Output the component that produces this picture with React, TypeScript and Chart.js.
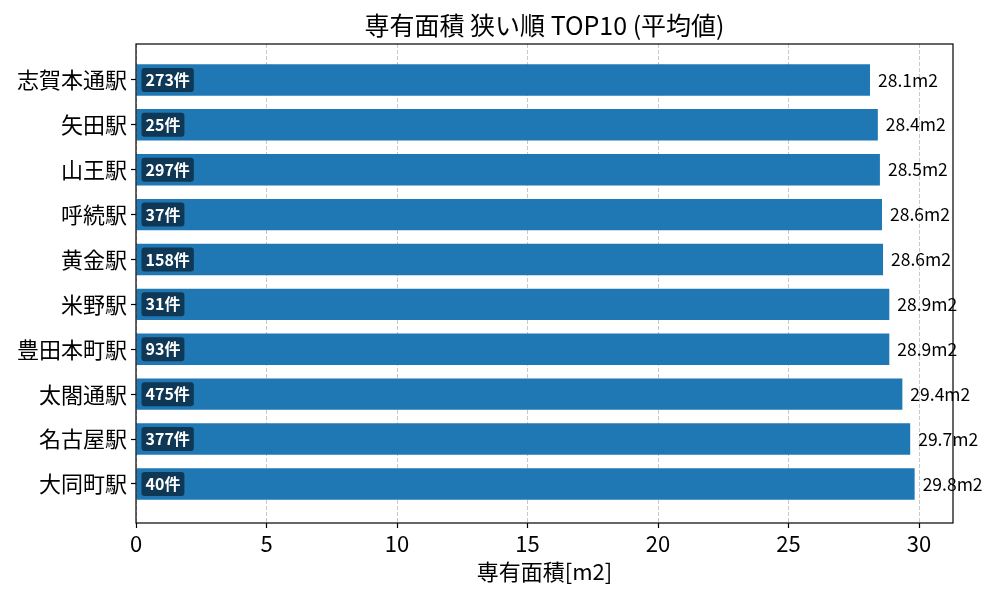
import { useEffect, useRef } from 'react';
import { Chart, registerables } from 'chart.js';

Chart.register(...registerables);

const FONT = '"Noto Sans CJK JP", "Noto Sans", sans-serif';

const stations = [
  '志賀本通駅', '矢田駅', '山王駅', '呼続駅', '黄金駅',
  '米野駅', '豊田本町駅', '太閤通駅', '名古屋駅', '大同町駅',
];
const areas = [28.12, 28.42, 28.5, 28.58, 28.62, 28.86, 28.86, 29.36, 29.66, 29.83];
const counts = [273, 25, 297, 37, 158, 31, 93, 475, 377, 40];
const xTicks = [0, 5, 10, 15, 20, 25, 30];

const TITLE = '専有面積 狭い順 TOP10 (平均値)';
const X_TITLE = '専有面積[m2]';

// frame, title and bar annotations (matplotlib-like)
const annotate = {
  id: 'annotate',
  afterDraw(chart: Chart) {
    const { ctx, chartArea } = chart;
    const meta = chart.getDatasetMeta(0);
    ctx.save();

    // axes box
    ctx.strokeStyle = '#000';
    ctx.lineWidth = 1.2;
    ctx.strokeRect(chartArea.left, chartArea.top, chartArea.right - chartArea.left, chartArea.bottom - chartArea.top);

    // title
    ctx.fillStyle = '#000';
    ctx.font = `25px ${FONT}`;
    ctx.textAlign = 'center';
    ctx.textBaseline = 'middle';
    ctx.fillText(TITLE, (chartArea.left + chartArea.right) / 2, 25);

    meta.data.forEach((bar: any, i: number) => {
      // value label
      ctx.fillStyle = '#000';
      ctx.font = `17.5px ${FONT}`;
      ctx.textAlign = 'left';
      ctx.textBaseline = 'middle';
      ctx.fillText(`${areas[i].toFixed(1)}m2`, bar.x + 8, bar.y);

      // count badge
      const txt = `${counts[i]}件`;
      ctx.font = `bold 16px ${FONT}`;
      const w = ctx.measureText(txt).width + 8;
      const bx = bar.base + 5;
      const by = bar.y - 12;
      ctx.fillStyle = 'rgba(10, 30, 50, 0.72)';
      ctx.beginPath();
      ctx.roundRect(bx, by, w, 24, 3);
      ctx.fill();
      ctx.fillStyle = '#fff';
      ctx.fillText(txt, bx + 4, bar.y);
    });
    ctx.restore();
  },
};

export default function App() {
  const canvasRef = useRef<HTMLCanvasElement>(null);
  const chartRef = useRef<Chart | null>(null);

  useEffect(() => {
    if (!canvasRef.current) return;
    if (chartRef.current) { chartRef.current.destroy(); chartRef.current = null; }

    chartRef.current = new Chart(canvasRef.current, {
      type: 'bar',
      data: {
        datasets: [{
          data: areas.map((v, i) => ({ x: v, y: i })),
          backgroundColor: '#1f77b4',
          barPercentage: 0.7,
          categoryPercentage: 1,
        }],
      },
      options: {
        indexAxis: 'y',
        animation: false,
        responsive: true,
        maintainAspectRatio: false,
        layout: { padding: { left: 0, right: 47, top: 44, bottom: 0 } },
        plugins: {
          legend: { display: false },
          tooltip: { enabled: false },
          title: { display: false },
        },
        scales: {
          x: {
            type: 'linear',
            min: 0,
            max: 31.3,
            z: 1,
            afterBuildTicks: (s: any) => { s.ticks = xTicks.map(v => ({ value: v })); },
            afterFit: (s: any) => { s.height = 77; },
            border: { display: false, dash: [4, 2] },
            grid: { color: 'rgba(176,176,176,0.7)', lineWidth: 1, tickColor: '#000', tickLength: 5, tickWidth: 1.2 },
            ticks: { color: '#000', font: { family: FONT, size: 22 }, padding: 2, maxRotation: 0 },
            title: { display: true, text: X_TITLE, color: '#000', font: { family: FONT, size: 22 }, padding: { top: 0, bottom: 15 } },
          },
          y: {
            type: 'linear',
            min: -0.8,
            max: 9.87,
            reverse: true,
            offset: false,
            afterBuildTicks: (s: any) => { s.ticks = stations.map((_, i) => ({ value: i })); },
            afterFit: (s: any) => { s.width = 136; },
            border: { display: false },
            grid: { offset: false, drawOnChartArea: false, color: '#000', tickLength: 5, tickWidth: 1.2 },
            ticks: {
              color: '#000',
              font: { family: FONT, size: 22 },
              padding: 4,
              callback: (v: any) => stations[v as number] ?? '',
            },
          },
        },
      },
      plugins: [annotate],
    });

    return () => { chartRef.current?.destroy(); chartRef.current = null; };
  }, []);

  return (
    <div style={{ position: 'fixed', left: 0, top: 0, width: 1000, height: 600, background: '#fff' }}>
      <canvas ref={canvasRef} role="img" aria-label="専有面積 狭い順 TOP10" />
    </div>
  );
}
